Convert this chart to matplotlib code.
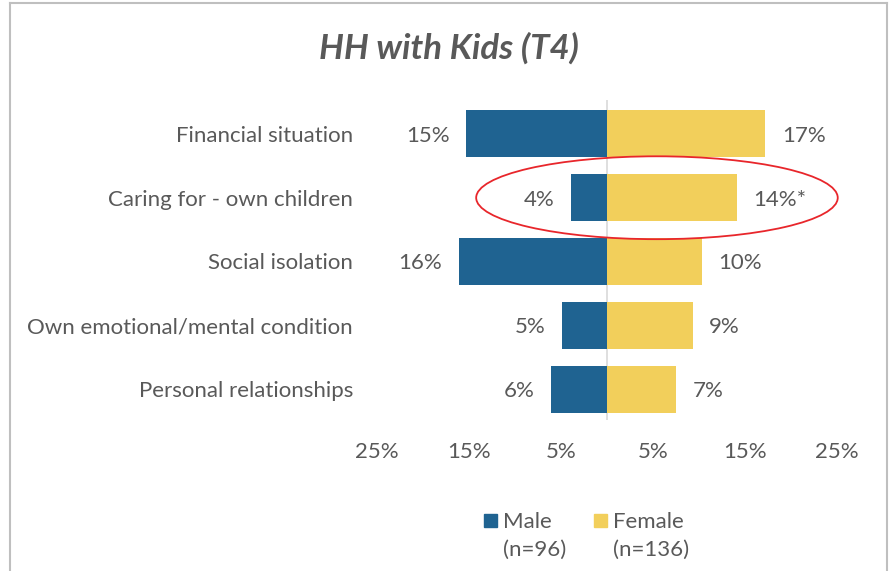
import matplotlib
matplotlib.use("Agg")
import matplotlib.pyplot as plt
from matplotlib.patches import Ellipse, Rectangle
from matplotlib.lines import Line2D

plt.rcParams['font.family'] = ['Lato', 'DejaVu Sans']

categories = ["Financial situation", "Caring for - own children", "Social isolation",
              "Own emotional/mental condition", "Personal relationships"]
male = [15.3, 3.9, 16.1, 4.9, 6.1]
female = [17.2, 14.1, 10.3, 9.3, 7.5]
male_labels = ["15%", "4%", "16%", "5%", "6%"]
female_labels = ["17%", "14%*", "10%", "9%", "7%"]
tick_vals = [-25, -15, -5, 5, 15, 25]
tick_labels = ["25%", "15%", "5%", "5%", "15%", "25%"]
legend_names = ["Male", "Female"]
legend_n = ["(n=96)", "(n=136)"]

BLUE = "#1F6391"
YELLOW = "#F2CF5B"
TEXT = "#595959"
FS = 16

W, H = 891, 571
fig = plt.figure(figsize=(W / 100, H / 100), dpi=100)

# axes box in pixel terms: x 377..837, y 100..420
ax = fig.add_axes([377 / W, 1 - 420 / H, 460 / W, 320 / H])

ys = list(range(len(categories)))
ax.barh(ys, [-m for m in male], height=0.737, color=BLUE)
ax.barh(ys, female, height=0.737, color=YELLOW)
ax.axvline(0, color="#D9D9D9", lw=1.2, zorder=0)

# small nudge so text sits on the bar centre like the original
dy = 0.03
for y, m, ml in zip(ys, male, male_labels):
    ax.text(-m - 1.8, y + dy, ml, ha="right", va="center", fontsize=FS, color=TEXT)
for y, f, fl in zip(ys, female, female_labels):
    ax.text(f + 1.8, y + dy, fl, ha="left", va="center", fontsize=FS, color=TEXT)

for y, c in zip(ys, categories):
    ax.text(-27.6, y + dy, c, ha="right", va="center", fontsize=FS, color=TEXT)

ax.set_xlim(-25, 25)
ax.set_ylim(4.486, -0.533)
ax.set_xticks(tick_vals)
ax.set_xticklabels(tick_labels, fontsize=FS, color=TEXT)
ax.set_yticks([])
ax.tick_params(axis="x", length=0, pad=16)
for s in ax.spines.values():
    s.set_visible(False)

# highlight ellipse around "Caring for" row
ax.add_patch(Ellipse((5.43, 1), 39.3, 1.30, fill=False, edgecolor="#E8262B",
                     lw=1.3, clip_on=False))

fig.text(449 / W, 1 - 48 / H, "HH with Kids (T4)", ha="center", va="center",
         fontsize=25, fontweight="bold", fontstyle="italic", color=TEXT)

# legend
for x0, name, n, col in zip([484, 594], legend_names, legend_n, [BLUE, YELLOW]):
    fig.add_artist(Rectangle((x0 / W, 1 - 527 / H), 13 / W, 13 / H, color=col,
                             transform=fig.transFigure))
    fig.text((x0 + 19) / W, 1 - 522 / H, name, ha="left", va="center",
             fontsize=FS, color=TEXT)
    fig.text((x0 + 19) / W, 1 - 550 / H, n, ha="left", va="center",
             fontsize=FS, color=TEXT)

# chart border (bottom edge cut off)
bc = "#BFBFBF"
fig.add_artist(Line2D([10 / W, 10 / W], [0, 1 - 3 / H], color=bc, lw=1.5))
fig.add_artist(Line2D([10 / W, 887 / W], [1 - 3 / H, 1 - 3 / H], color=bc, lw=1.5))
fig.add_artist(Line2D([887 / W, 887 / W], [0, 1 - 3 / H], color=bc, lw=1.5))

fig.savefig("out.png", dpi=100)
